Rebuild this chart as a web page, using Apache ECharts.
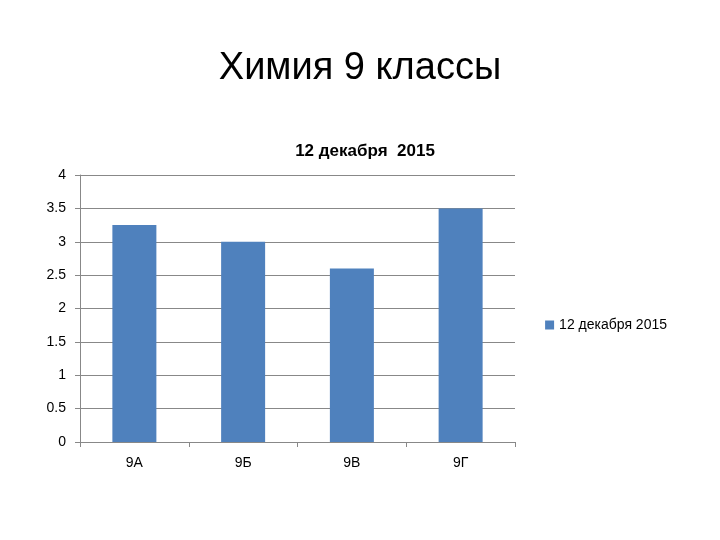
<!DOCTYPE html>
<html><head><meta charset="utf-8">
<script src="https://cdn.jsdelivr.net/npm/echarts@6/dist/echarts.min.js"></script>
<style>html,body{margin:0;background:#fff}#c{width:720px;height:540px}</style>
</head><body><div id="c"></div>
<script>
const categories = ['9А','9Б','9В','9Г'];
const values = [3.25, 3.0, 2.6, 3.5];
const seriesName = '12 декабря 2015';
const chart = echarts.init(document.getElementById('c'));
chart.setOption({
  animation:false,
  textStyle:{fontFamily:'Liberation Sans, DejaVu Sans'},
  title:[
    {text:'Химия 9 классы',left:'center',top:45,textStyle:{fontSize:38,fontWeight:'normal',color:'#000'}},
    {text:'12 декабря  2015',left:360,top:138,textAlign:'center',textStyle:{fontSize:17,fontWeight:'bold',color:'#000'}}
  ],
  legend:{right:48,top:313,orient:'vertical',itemWidth:9,itemHeight:9,icon:'rect',textStyle:{fontSize:14,color:'#000'},data:[seriesName]},
  grid:{left:80,right:205,top:175,bottom:98},
  xAxis:{type:'category',data:categories,axisTick:{show:true,alignWithLabel:false,length:5,lineStyle:{color:'#888'}},
    axisLine:{lineStyle:{color:'#888'}},axisLabel:{color:'#000',fontSize:14,margin:14}},
  yAxis:{type:'value',min:0,max:4,interval:0.5,axisLine:{show:true,lineStyle:{color:'#888'}},
    axisTick:{show:true,length:5,lineStyle:{color:'#888'}},
    splitLine:{lineStyle:{color:'#888'}},axisLabel:{color:'#000',fontSize:14,margin:14}},
  series:[{name:seriesName,type:'bar',data:values,barWidth:44,itemStyle:{color:'#4f81bd'}}]
});
</script></body></html>
